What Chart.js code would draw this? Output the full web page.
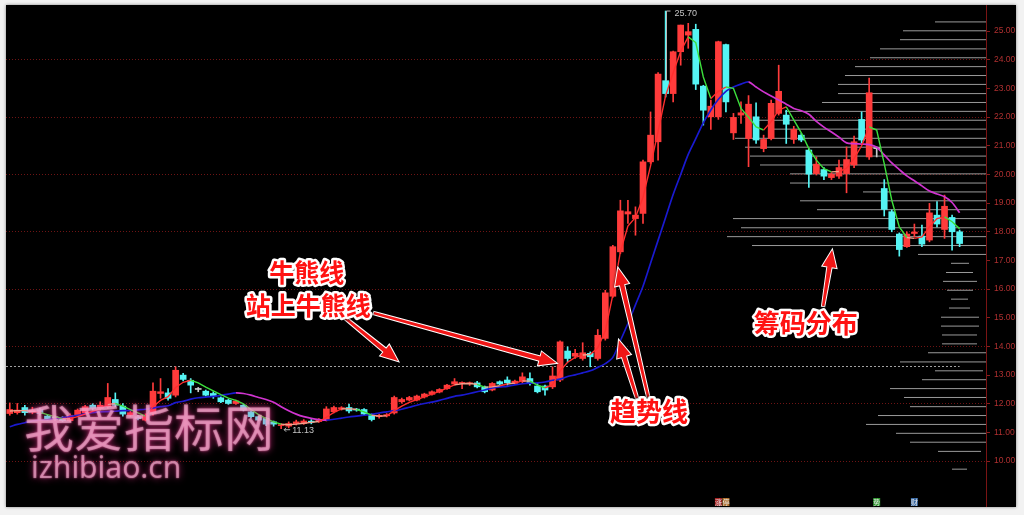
<!DOCTYPE html>
<html>
<head>
<meta charset="utf-8">
<script src="https://cdn.jsdelivr.net/npm/chart.js@4.4.0/dist/chart.umd.min.js"></script>
<style>
  html, body { margin: 0; padding: 0; }
  body { width: 1024px; height: 515px; position: relative; overflow: hidden; background: #f2f2f2; }
  #frame { position: absolute; left: 6px; top: 5px; width: 1010px; height: 502px; background: #000; box-shadow: 0 0 3px rgba(0,0,0,.45); }
  #kline { display: block; }
  .wm { position: absolute; pointer-events: none; color: rgba(238, 196, 214, .5); white-space: nowrap;
        text-shadow: 0 0 2px rgba(255, 110, 180, .8), 0 0 7px rgba(255, 50, 150, .7); }
</style>
</head>
<body>
<div id="frame"><canvas id="kline" width="1010" height="502"></canvas></div>
<div class="wm" style="left:24px;top:400px;font:400 50px/50px 'Noto Sans CJK SC';">我爱指标网</div>
<div class="wm" style="left:31px;top:452px;font:400 30px/30px 'Noto Sans';">izhibiao.cn</div>
<script>
// daily bars
const open = [11.66, 11.69, 11.87, 11.71, 11.80, 11.57, 11.55, 11.52, 11.41, 11.60,
  11.69, 11.95, 11.84, 11.90, 12.15, 11.92, 11.60, 11.55, 11.43, 11.66,
  12.36, 12.38, 12.30, 13.00, 12.82, 12.50, 12.44, 12.36, 12.21, 12.13,
  12.01, 11.95, 11.72, 11.55, 11.49, 11.37, 11.24, 11.22, 11.31, 11.31,
  11.38, 11.38, 11.45, 11.72, 11.83, 11.87, 11.80, 11.80, 11.60, 11.55,
  11.58, 11.68, 12.07, 12.13, 12.13, 12.24, 12.33, 12.41, 12.53, 12.69,
  12.71, 12.70, 12.73, 12.59, 12.48, 12.77, 12.83, 12.71, 12.77, 12.88,
  12.62, 12.62, 12.59, 12.83, 13.84, 13.66, 13.58, 13.76, 13.58, 14.28,
  15.75, 17.30, 18.62, 18.46, 18.64, 20.44, 21.14, 23.27, 22.82, 24.28,
  24.86, 25.06, 23.08, 22.01, 22.01, 24.53, 21.45, 22.07, 21.25, 22.01,
  20.90, 21.25, 22.13, 22.07, 21.22, 21.37, 20.85, 20.03, 20.17, 19.89,
  19.94, 20.03, 20.33, 21.92, 20.61, 20.90, 19.51, 18.70, 17.92, 17.48,
  17.94, 17.85, 17.71, 18.58, 18.08, 18.50, 18.00];
const high = [12.03, 12.01, 11.95, 11.88, 11.85, 11.62, 11.58, 11.55, 11.65, 11.82,
  11.95, 12.00, 12.07, 12.71, 12.38, 12.01, 11.75, 11.60, 11.65, 12.73,
  12.88, 12.53, 13.29, 13.06, 12.88, 12.57, 12.48, 12.42, 12.24, 12.16,
  12.13, 11.98, 11.75, 11.57, 11.52, 11.40, 11.30, 11.37, 11.43, 11.45,
  11.45, 11.48, 11.90, 11.92, 11.90, 11.99, 11.84, 11.83, 11.65, 11.64,
  11.66, 12.27, 12.20, 12.26, 12.30, 12.37, 12.45, 12.53, 12.68, 12.88,
  12.77, 12.76, 12.78, 12.62, 12.74, 12.80, 12.94, 12.83, 13.08, 13.08,
  12.71, 12.65, 13.29, 14.20, 13.99, 13.90, 14.13, 13.81, 14.59, 15.96,
  17.53, 19.10, 19.10, 18.87, 20.50, 22.18, 23.55, 25.70, 24.30, 25.21,
  25.27, 25.24, 23.11, 22.59, 24.65, 24.55, 22.13, 22.53, 22.75, 22.50,
  21.37, 22.59, 23.81, 22.24, 21.68, 21.43, 20.90, 20.61, 20.24, 20.06,
  20.50, 20.96, 21.34, 22.18, 23.36, 20.96, 19.82, 18.76, 17.96, 18.00,
  18.27, 18.23, 18.99, 19.05, 19.28, 18.58, 18.06];
const low = [11.60, 11.64, 11.60, 11.65, 11.60, 11.42, 11.42, 11.38, 11.38, 11.55,
  11.65, 11.78, 11.78, 11.84, 11.90, 11.57, 11.55, 11.44, 11.40, 11.60,
  12.19, 12.13, 12.24, 12.80, 12.38, 12.42, 12.27, 12.19, 12.04, 11.98,
  11.98, 11.75, 11.50, 11.40, 11.24, 11.22, 11.13, 11.16, 11.26, 11.28,
  11.30, 11.35, 11.40, 11.68, 11.78, 11.68, 11.74, 11.60, 11.40, 11.50,
  11.54, 11.64, 12.02, 12.10, 12.10, 12.20, 12.30, 12.38, 12.50, 12.65,
  12.53, 12.64, 12.55, 12.38, 12.45, 12.66, 12.65, 12.68, 12.71, 12.65,
  12.38, 12.30, 12.53, 12.77, 13.46, 13.58, 13.52, 13.29, 13.52, 14.22,
  15.71, 17.24, 18.29, 17.88, 18.29, 20.38, 20.50, 22.70, 22.53, 23.81,
  24.40, 22.96, 21.72, 21.57, 21.92, 22.18, 21.22, 21.78, 20.27, 21.08,
  20.79, 21.20, 22.07, 21.08, 21.08, 21.14, 19.55, 19.98, 19.82, 19.82,
  19.86, 19.36, 20.24, 21.10, 20.52, 20.61, 18.55, 18.00, 17.15, 17.45,
  17.82, 17.48, 17.65, 18.17, 17.77, 17.36, 17.48];
const close = [11.80, 11.78, 11.69, 11.78, 11.66, 11.45, 11.45, 11.41, 11.60, 11.78,
  11.90, 11.84, 11.95, 12.22, 11.95, 11.64, 11.69, 11.48, 11.60, 12.44,
  12.42, 12.19, 13.17, 12.85, 12.65, 12.50, 12.30, 12.27, 12.07, 12.01,
  12.10, 11.78, 11.55, 11.43, 11.29, 11.29, 11.26, 11.31, 11.37, 11.40,
  11.36, 11.43, 11.82, 11.87, 11.85, 11.75, 11.78, 11.64, 11.45, 11.60,
  11.62, 12.22, 12.15, 12.22, 12.27, 12.34, 12.42, 12.50, 12.65, 12.77,
  12.72, 12.71, 12.59, 12.42, 12.71, 12.69, 12.73, 12.79, 12.94, 12.71,
  12.42, 12.48, 12.97, 14.16, 13.58, 13.76, 13.78, 13.64, 14.39, 15.87,
  17.48, 18.73, 18.70, 18.58, 20.44, 21.37, 23.50, 22.82, 24.28, 25.21,
  24.98, 23.15, 22.24, 22.38, 24.63, 22.53, 21.99, 22.15, 22.45, 21.20,
  21.22, 22.48, 22.90, 21.75, 21.57, 21.20, 20.01, 20.36, 19.94, 20.01,
  20.24, 20.52, 21.14, 21.20, 22.85, 20.90, 18.78, 18.08, 17.38, 17.92,
  17.99, 17.57, 18.66, 18.27, 18.89, 18.00, 17.59];

// 牛熊线
const bullBear = [11.20, 11.28, 11.34, 11.40, 11.43, 11.44, 11.48, 11.52, 11.56, 11.60,
  11.65, 11.69, 11.72, 11.73, 11.74, 11.76, 11.77, 11.79, 11.81, 11.85,
  11.90, 11.93, 12.04, 12.09, 12.16, 12.21, 12.23, 12.26, 12.29, 12.34,
  12.38, 12.36, 12.30, 12.22, 12.15, 12.05, 11.90, 11.76, 11.64, 11.55,
  11.49, 11.45, 11.43, 11.46, 11.50, 11.54, 11.57, 11.60, 11.63, 11.68,
  11.72, 11.76, 11.81, 11.88, 11.95, 12.01, 12.06, 12.12, 12.19, 12.26,
  12.30, 12.36, 12.42, 12.48, 12.55, 12.59, 12.61, 12.66, 12.70, 12.72,
  12.73, 12.76, 12.82, 12.86, 12.95, 13.01, 13.08, 13.15, 13.27, 13.40,
  13.62, 14.20, 14.80, 15.45, 16.10, 16.90, 17.70, 18.50, 19.30, 20.00,
  20.70, 21.25, 21.80, 22.25, 22.62, 22.90, 23.05, 23.15, 23.23, 23.05,
  22.88, 22.74, 22.60, 22.45, 22.30, 22.22, 22.10, 21.85, 21.65, 21.48,
  21.30, 21.10, 21.07, 21.06, 21.04, 20.95, 20.68, 20.40, 20.17, 19.95,
  19.78, 19.60, 19.42, 19.32, 19.22, 19.02, 18.66];

// 趋势线
const trend = [11.75, 11.76, 11.76, 11.73, 11.70, 11.62, 11.55, 11.48, 11.48, 11.55,
  11.64, 11.74, 11.82, 11.97, 12.01, 11.92, 11.80, 11.68, 11.57, 11.90,
  12.12, 12.25, 12.57, 12.75, 12.82, 12.73, 12.58, 12.45, 12.32, 12.20,
  12.12, 12.00, 11.80, 11.62, 11.48, 11.37, 11.29, 11.27, 11.29, 11.32,
  11.35, 11.38, 11.53, 11.70, 11.82, 11.83, 11.80, 11.72, 11.60, 11.57,
  11.58, 11.76, 11.92, 12.05, 12.15, 12.24, 12.34, 12.43, 12.55, 12.66,
  12.70, 12.71, 12.68, 12.58, 12.59, 12.63, 12.69, 12.72, 12.80, 12.79,
  12.65, 12.56, 12.66, 13.15, 13.45, 13.62, 13.70, 13.72, 13.95, 14.55,
  15.80, 17.30, 18.20, 18.50, 19.20, 20.30, 21.50, 22.75, 23.55, 24.30,
  24.80, 24.60, 23.40, 22.65, 22.90, 23.05, 23.00, 22.30, 22.00, 21.66,
  21.55, 21.84, 22.24, 22.36, 21.90, 21.45, 20.90, 20.50, 20.20, 20.09,
  20.10, 20.22, 20.55, 21.00, 21.66, 21.55, 20.38, 19.10, 18.17, 17.80,
  17.77, 17.82, 18.17, 18.46, 18.52, 18.35, 18.11];

// 筹码分布: price level, and where each bar starts / ends, counted from the right edge
const chipPrice = [9.72, 10.34, 10.66, 10.97, 11.28, 11.59, 11.90, 12.22, 12.53, 12.84,
  13.15, 13.46, 13.78, 14.09, 14.40, 14.71, 15.02, 15.34, 15.65, 15.96,
  16.27, 16.58, 16.90, 17.21, 17.52, 17.83, 18.14, 18.46, 18.77, 19.08,
  19.39, 19.70, 20.02, 20.33, 20.64, 20.95, 21.26, 21.58, 21.89, 22.20,
  22.51, 22.82, 23.14, 23.45, 23.76, 24.07, 24.38, 24.70, 25.01, 25.32];
const chipStart = [19, 5, 0, 0, 0, 0, 0, 0, 0, 0,
  3, 0, 0, 9, 9, 7, 7, 16, 18, 13,
  9, 13, 17, 0, 0, 0, 0, 0, 0, 0,
  0, 0, 0, 0, 0, 0, 0, 0, 0, 0,
  0, 0, 0, 0, 0, 0, 0, 0, 0, 0];
const chipEnd = [34, 48, 76, 90, 120, 108, 76, 82, 96, 64,
  51, 86, 58, 44, 44, 45, 45, 37, 35, 39,
  43, 40, 35, 68, 234, 259, 245, 253, 169, 186,
  123, 196, 196, 226, 236, 241, 251, 216, 231, 201,
  164, 148, 148, 141, 131, 116, 106, 86, 83, 51];

const yTicks = [10, 11, 12, 13, 14, 15, 16, 17, 18, 19, 20, 21, 22, 23, 24, 25];
const refPrice = 13.31;
const emptySlots = 3;

const labels = close.map((_, i) => 'D' + (i + 1));
for (let k = 0; k < emptySlots; k++) labels.push('');

const candleColor = close.map((c, i) => c > open[i] ? '#ff3b3b' : (c < open[i] ? '#55f4f4' : '#cccccc'));

const chipPoints = [];
chipPrice.forEach((p, k) => {
    chipPoints.push({ x: chipStart[k], y: p }, { x: chipEnd[k], y: p }, { x: NaN, y: NaN });
});

// text labels and arrows, anchored in (bar index, price)
const notes = [
    { text: '牛熊线', i: 39.4, v: 16.59, size: 25 },
    { text: '站上牛熊线', i: 39.6, v: 15.44, size: 25 },
    { text: '趋势线', i: 84.8, v: 11.74, size: 26 },
    { text: '筹码分布', i: 105.6, v: 14.81, size: 26 }
];
const arrows = [
    { from: [44.5, 14.99], to: [51.5, 13.49] },
    { from: [48.3, 15.16], to: [72.5, 13.42] },
    { from: [84.7, 12.23], to: [80.7, 16.73] },
    { from: [83.2, 12.20], to: [80.8, 14.22] },
    { from: [107.9, 15.41], to: [109.1, 17.36] }
];
const badges = [
    { i: 94, t: '涨', c: '#a82222' },
    { i: 95, t: '停', c: '#b0702c' },
    { i: 115, t: '势', c: '#2c962c' },
    { i: 120, t: '财', c: '#3a6aa4' }
];

function drawArrow(ctx, x1, y1, x2, y2) {
    const ang = Math.atan2(y2 - y1, x2 - x1);
    const len = Math.hypot(x2 - x1, y2 - y1);
    const hl = 17, hw = 7;
    ctx.save();
    ctx.translate(x1, y1);
    ctx.rotate(ang);
    ctx.beginPath();
    ctx.moveTo(0, -1.2);
    ctx.lineTo(len - hl, -2.2);
    ctx.lineTo(len - hl, -hw);
    ctx.lineTo(len, 0);
    ctx.lineTo(len - hl, hw);
    ctx.lineTo(len - hl, 2.2);
    ctx.lineTo(0, 1.2);
    ctx.closePath();
    ctx.shadowColor = 'rgba(0,0,0,0.8)';
    ctx.shadowBlur = 3;
    ctx.strokeStyle = '#ffffff';
    ctx.lineWidth = 2;
    ctx.stroke();
    ctx.shadowBlur = 0;
    ctx.fillStyle = '#f01616';
    ctx.fill();
    ctx.restore();
}

const overlay = {
    id: 'overlay',
    beforeDatasetsDraw(chart) {
        const { ctx, chartArea, scales: { x, y } } = chart;
        const yy = Math.round(y.getPixelForValue(refPrice)) + 0.5;
        ctx.save();
        ctx.strokeStyle = '#a0a0a0';
        ctx.lineWidth = 1;
        ctx.setLineDash([2, 2]);
        ctx.beginPath();
        ctx.moveTo(chartArea.left, yy);
        ctx.lineTo(x.getPixelForValue(close.length - 1), yy);
        ctx.stroke();
        ctx.restore();
    },
    afterDatasetsDraw(chart) {
        const { ctx, chartArea, scales: { x, y } } = chart;
        ctx.save();

        // highest / lowest price marks
        const hi = Math.max(...high), iHi = high.indexOf(hi);
        const lo = Math.min(...low), iLo = low.indexOf(lo);
        const xh = Math.round(x.getPixelForValue(iHi)) + 0.5, yh = y.getPixelForValue(hi);
        ctx.strokeStyle = '#b8b8b8';
        ctx.lineWidth = 1;
        ctx.beginPath();
        ctx.moveTo(xh, y.getPixelForValue(Math.max(open[iHi], close[iHi])));
        ctx.lineTo(xh, yh);
        ctx.lineTo(xh + 4, yh);
        ctx.stroke();
        ctx.font = '9px "Liberation Sans", sans-serif';
        ctx.fillStyle = '#c4c4c4';
        ctx.textBaseline = 'middle';
        ctx.textAlign = 'left';
        ctx.fillText(hi.toFixed(2), xh + 8, yh + 2);

        const xl = x.getPixelForValue(iLo) + 3, yl = y.getPixelForValue(lo) + 1;
        ctx.beginPath();
        ctx.moveTo(xl, yl);
        ctx.lineTo(xl + 6, yl);
        ctx.moveTo(xl, yl);
        ctx.lineTo(xl + 2, yl - 2);
        ctx.moveTo(xl, yl);
        ctx.lineTo(xl + 2, yl + 2);
        ctx.stroke();
        ctx.fillText(lo.toFixed(2), xl + 8, yl + 1);

        // small event badges on the bottom edge
        ctx.font = '7px "Noto Sans CJK SC", sans-serif';
        ctx.textAlign = 'center';
        badges.forEach(b => {
            const bx = x.getPixelForValue(b.i);
            ctx.fillStyle = b.c;
            ctx.fillRect(bx - 3.5, chartArea.bottom - 9, 7, 8);
            ctx.fillStyle = '#e8e8e8';
            ctx.fillText(b.t, bx, chartArea.bottom - 5);
        });

        arrows.forEach(a => {
            drawArrow(ctx, x.getPixelForValue(a.from[0]), y.getPixelForValue(a.from[1]),
                x.getPixelForValue(a.to[0]), y.getPixelForValue(a.to[1]));
        });

        notes.forEach(n => {
            const tx = x.getPixelForValue(n.i), ty = y.getPixelForValue(n.v);
            ctx.font = 'bold ' + n.size + 'px "Noto Sans CJK SC", sans-serif';
            ctx.textAlign = 'center';
            ctx.textBaseline = 'middle';
            ctx.lineJoin = 'round';
            ctx.shadowColor = 'rgba(0,0,0,0.9)';
            ctx.shadowBlur = 4;
            ctx.lineWidth = 5;
            ctx.strokeStyle = '#ffffff';
            ctx.strokeText(n.text, tx, ty);
            ctx.shadowBlur = 0;
            ctx.fillStyle = '#ff1212';
            ctx.fillText(n.text, tx, ty);
        });
        ctx.restore();
    }
};

const config = {
    type: 'bar',
    data: {
        labels: labels,
        datasets: [{
            type: 'line',
            label: '筹码分布',
            data: chipPoints,
            xAxisID: 'x2',
            borderColor: '#9a9a9a',
            borderWidth: 1,
            pointRadius: 0,
            tension: 0,
            order: 6
        }, {
            label: '影线',
            data: low.map((l, i) => [l, high[i]]),
            backgroundColor: candleColor,
            barThickness: 1,
            grouped: false,
            order: 5
        }, {
            label: 'K线',
            data: open.map((o, i) => [o, close[i]]),
            backgroundColor: candleColor,
            barThickness: 6,
            minBarLength: 1,
            grouped: false,
            order: 4
        }, {
            type: 'line',
            label: '牛熊线',
            data: bullBear,
            borderColor: '#1a1ad0',
            segment: {
                borderColor: c => c.p1.parsed.y >= c.p0.parsed.y ? '#1a1ad0' : '#d034d0'
            },
            borderWidth: 1.7,
            pointRadius: 0,
            tension: 0.3,
            order: 2
        }, {
            type: 'line',
            label: '趋势线',
            data: trend,
            borderColor: '#ff2e2e',
            segment: {
                borderColor: c => {
                    const d = c.p1.parsed.y - c.p0.parsed.y;
                    return d > 0.05 ? '#ff2e2e' : (d < -0.05 ? '#3cdf3c' : '#f0a08c');
                }
            },
            borderWidth: 1.4,
            pointRadius: 0,
            tension: 0,
            order: 1
        }]
    },
    options: {
        responsive: false,
        maintainAspectRatio: false,
        animation: false,
        events: [],
        layout: { padding: 0, autoPadding: false },
        plugins: {
            legend: { display: false },
            tooltip: { enabled: false }
        },
        scales: {
            x: { display: false, offset: true },
            x2: {
                type: 'linear',
                display: false,
                offset: false,
                reverse: true,
                min: 0,
                max: 980,
                afterDataLimits: s => { s.min = 0; s.max = 980; }
            },
            y: {
                position: 'right',
                min: 8.4,
                max: 25.91,
                afterBuildTicks: s => { s.ticks = yTicks.map(v => ({ value: v })); },
                afterFit: s => { s.width = 30; s.paddingTop = 0; s.paddingBottom = 0; },
                grid: {
                    color: c => (c.tick && c.tick.value % 2 === 0) ? '#6e1414' : 'rgba(0,0,0,0)',
                    lineWidth: 1,
                    drawTicks: true,
                    tickLength: 4,
                    tickColor: '#8a1c1c'
                },
                border: { display: true, color: '#7a1414', dash: [1, 2] },
                ticks: {
                    color: '#b03030',
                    padding: 4,
                    font: { family: 'Liberation Sans', size: 8.5 },
                    callback: v => v.toFixed(2)
                }
            }
        }
    },
    plugins: [overlay]
};

new Chart(document.getElementById('kline').getContext('2d'), config);
</script>
</body>
</html>
